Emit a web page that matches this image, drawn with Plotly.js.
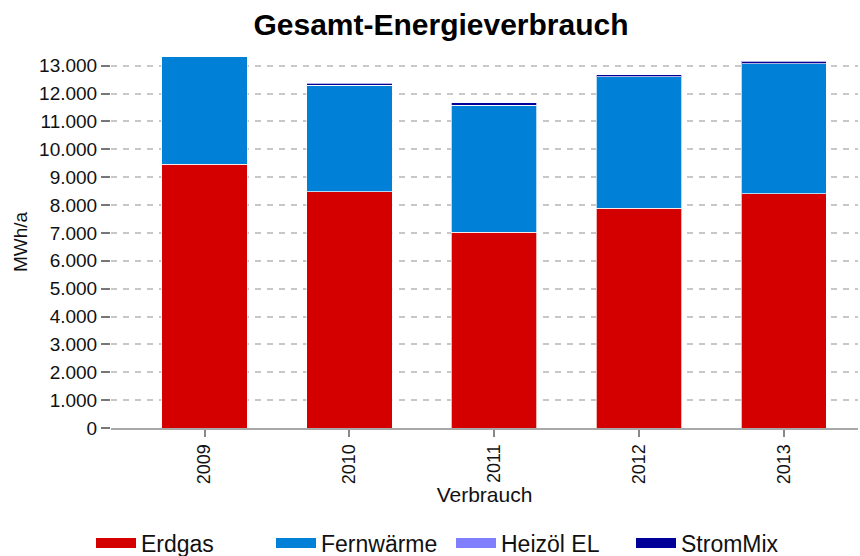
<!DOCTYPE html>
<html>
<head>
<meta charset="utf-8">
<script src="https://cdn.plot.ly/plotly-3.0.1.min.js"></script>
<style>
html,body{margin:0;padding:0;background:#fff;}
#chart{width:860px;height:556px;}
</style>
</head>
<body>
<div id="chart"></div>
<script>
// Data (MWh/a)
const years = ['2009', '2010', '2011', '2012', '2013'];
const erdgas = [9470, 8470, 7020, 7890, 8400];
const fernwaerme = [3860, 3830, 4570, 4710, 4680];
const heizoelEL = [0, 0, 0, 0, 0];
const stromMix = [0, 80, 80, 80, 80];
const seriesNames = ['Erdgas', 'Fernwärme', 'Heizöl EL', 'StromMix'];
const seriesColors = ['#d40000', '#0080d6', '#8080ff', '#000099'];
const yTicks = [0,1000,2000,3000,4000,5000,6000,7000,8000,9000,10000,11000,12000,13000];

const seriesValues = [erdgas, fernwaerme, heizoelEL, stromMix];
const FONT = 'Liberation Sans, Arial, sans-serif';

const traces = seriesValues.map((vals, i) => ({
  type: 'bar',
  name: seriesNames[i],
  legendgroup: seriesNames[i],
  showlegend: false,
  x: years,
  y: vals,
  marker: {color: seriesColors[i], line: {color: 'rgba(255,255,255,0.7)', width: 1}},
  hoverinfo: 'x+y+name'
}));

// legend entries with wide rectangular swatches
const legendTraces = seriesNames.map((name, i) => ({
  type: 'scatter',
  mode: 'lines',
  name: name,
  legendgroup: name,
  x: [years[0]],
  y: [null],
  line: {color: seriesColors[i], width: 18},
  hoverinfo: 'skip'
}));

const layout = {
  width: 860,
  height: 556,
  barmode: 'stack',
  bargap: 0.41,
  separators: ',.',
  paper_bgcolor: '#ffffff',
  plot_bgcolor: '#ffffff',
  font: {family: FONT, size: 19, color: '#111111'},
  margin: {l: 111, r: 2, t: 56, b: 127.5, pad: 0},
  title: {
    text: '<b>Gesamt-Energieverbrauch</b>',
    font: {family: FONT, size: 30, color: '#000000'},
    x: 441 / 860, xanchor: 'center',
    y: 1 - 24 / 556, yanchor: 'middle', yref: 'container'
  },
  xaxis: {
    type: 'category',
    range: [-0.646, 4.513],
    tickangle: -90,
    ticks: 'outside', ticklen: 7, tickwidth: 2, tickcolor: '#888888',
    showline: true, linecolor: '#a8a8a8', linewidth: 2,
    showgrid: false,
    tickfont: {family: FONT, size: 18, color: '#111111'},
    title: {text: 'Verbrauch', font: {family: FONT, size: 21, color: '#111111'}, standoff: 1}
  },
  yaxis: {
    range: [0, 13350],
    tickvals: yTicks,
    tickformat: ',d',
    ticks: 'outside', ticklen: 9, tickwidth: 2, tickcolor: '#777777',
    showline: false,
    zeroline: false,
    showgrid: true, gridcolor: '#c8c8c8', gridwidth: 2, griddash: '6px,6px',
    tickfont: {family: FONT, size: 19, color: '#111111'},
    title: {text: 'MWh/a', font: {family: FONT, size: 19, color: '#111111'}, standoff: 6}
  },
  legend: {
    orientation: 'h',
    xref: 'container', yref: 'container',
    x: 91 / 860, xanchor: 'left',
    y: 1 - 543 / 556, yanchor: 'middle',
    itemwidth: 40,
    entrywidth: 125, entrywidthmode: 'pixels',
    traceorder: 'normal',
    font: {family: FONT, size: 23, color: '#111111'},
    bgcolor: 'rgba(0,0,0,0)'
  },
  showlegend: true
};

Plotly.newPlot('chart', traces.concat(legendTraces), layout, {displayModeBar: false, responsive: false});
</script>
</body>
</html>
